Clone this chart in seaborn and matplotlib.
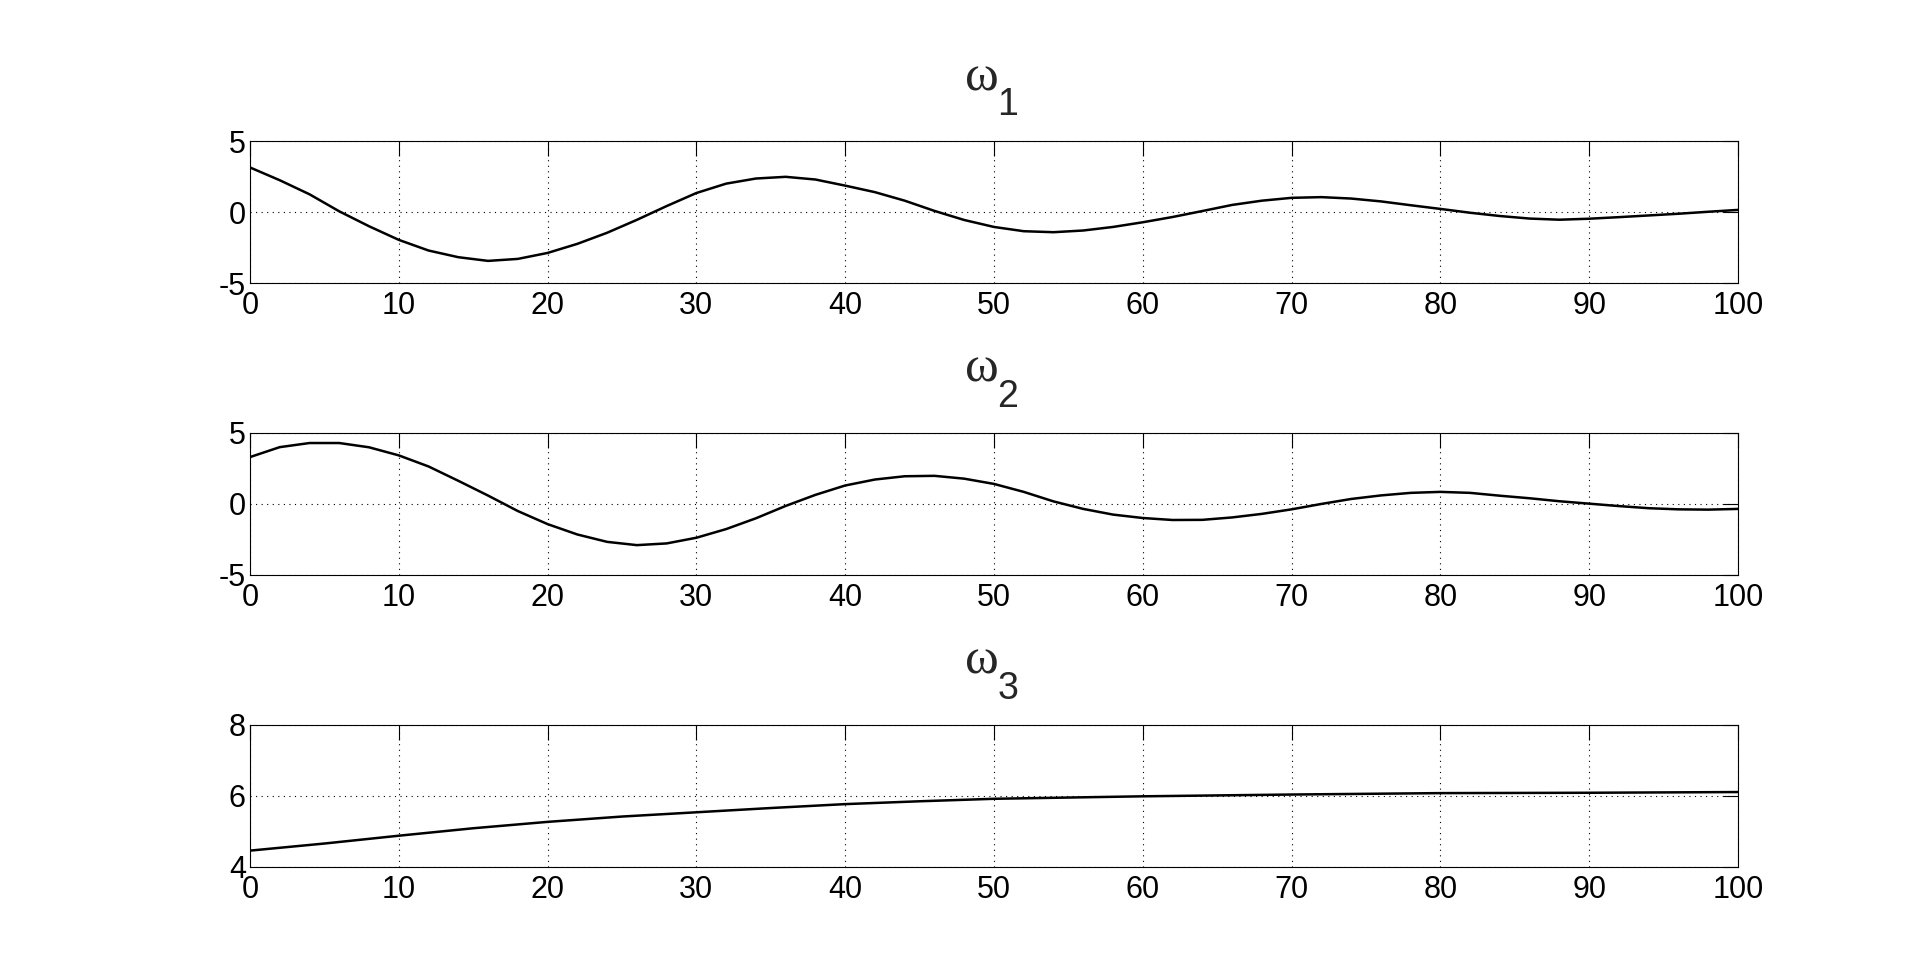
import numpy as np
import matplotlib
matplotlib.use("Agg")
import matplotlib.pyplot as plt
import seaborn as sns

# valeurs
t_osc = [0, 2, 4, 6, 8, 10, 12, 14, 16, 18, 20, 22, 24, 26, 28, 30, 32, 34, 36, 38,
         40, 42, 44, 46, 48, 50, 52, 54, 56, 58, 60, 62, 64, 66, 68, 70, 72, 74, 76, 78,
         80, 82, 84, 86, 88, 90, 92, 94, 96, 98, 100]

omega1 = [3.14, 2.24, 1.25, 0.05, -1.00, -1.96, -2.71, -3.18, -3.44, -3.30,
          -2.88, -2.24, -1.46, -0.55, 0.42, 1.34, 2.00, 2.36, 2.48, 2.29,
          1.86, 1.40, 0.80, 0.08, -0.56, -1.05, -1.35, -1.42, -1.30, -1.05,
          -0.72, -0.35, 0.07, 0.50, 0.80, 1.00, 1.05, 0.95, 0.75, 0.48,
          0.22, -0.05, -0.28, -0.46, -0.54, -0.47, -0.36, -0.24, -0.12, 0.02,
          0.15]

omega2 = [3.30, 4.00, 4.29, 4.29, 3.99, 3.42, 2.64, 1.63, 0.59, -0.50,
          -1.42, -2.15, -2.67, -2.90, -2.78, -2.38, -1.77, -1.01, -0.14, 0.64,
          1.30, 1.72, 1.95, 1.98, 1.78, 1.41, 0.85, 0.18, -0.35, -0.75,
          -0.99, -1.13, -1.12, -0.95, -0.70, -0.38, 0.00, 0.35, 0.60, 0.78,
          0.85, 0.78, 0.58, 0.40, 0.19, 0.02, -0.15, -0.30, -0.38, -0.40,
          -0.35]

t_w3 = [0, 5, 10, 15, 20, 25, 30, 35, 40, 45, 50, 60, 70, 80, 90, 100]
omega3 = [4.46, 4.66, 4.88, 5.09, 5.27, 5.42, 5.54, 5.66, 5.77, 5.85, 5.92,
          5.99, 6.04, 6.08, 6.09, 6.11]

subscripts = ["1", "2", "3"]
ylims = [(-5, 5), (-5, 5), (4, 8)]
yticks = [[-5, 0, 5], [-5, 0, 5], [4, 6, 8]]
xticks = list(range(0, 101, 10))

sns.set_style("white")
plt.rcParams["font.family"] = ["Liberation Sans", "DejaVu Sans"]
plt.rcParams["axes.unicode_minus"] = False

fig = plt.figure(figsize=(19.2, 9.74), dpi=100)
boxes = [
    [0.1302, 0.7094, 0.7750, 0.1458],
    [0.1302, 0.4097, 0.7750, 0.1458],
    [0.1302, 0.1099, 0.7750, 0.1458],
]
series = [(t_osc, omega1), (t_osc, omega2), (t_w3, omega3)]

for box, (t, w), sub, ylim, yt in zip(boxes, series, subscripts, ylims, yticks):
    ax = fig.add_axes(box)
    sns.lineplot(x=t, y=w, ax=ax, color="black", linewidth=1.8)
    ax.set_xlim(0, 100)
    ax.set_ylim(*ylim)
    ax.set_xticks(xticks)
    ax.set_yticks(yt)
    ax.grid(True, color="black", linestyle=(0, (1, 4)), linewidth=0.8)
    ax.tick_params(direction="in", length=11, width=0.8, top=True, right=True,
                   labelsize=22, colors="black")
    ax.tick_params(axis="x", pad=6)
    ax.tick_params(axis="y", pad=3)
    for s in ax.spines.values():
        s.set_visible(True)
        s.set_color("black")
        s.set_linewidth(0.8)
    # titre façon MATLAB : \omega_n
    ax.annotate("ω", xy=(0.5, 1), xycoords="axes fraction", xytext=(-12, 51),
                textcoords="offset pixels", ha="center", va="baseline",
                fontsize=37, family=["Liberation Serif", "DejaVu Serif"])
    ax.annotate(sub, xy=(0.5, 1), xycoords="axes fraction", xytext=(14, 26),
                textcoords="offset pixels", ha="center", va="baseline",
                fontsize=27)

fig.savefig("out.png", dpi=100, facecolor="white")
plt.close()
